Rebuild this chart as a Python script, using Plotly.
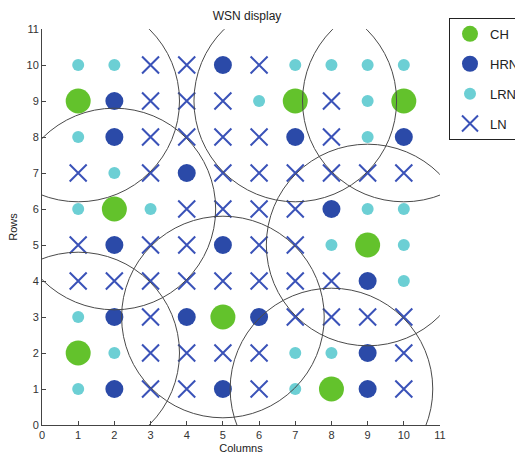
import plotly.graph_objects as go

# Node type on each grid cell, listed from row 10 (top) down to row 1.
# Columns 1..10 left to right.
ROWS = [10, 9, 8, 7, 6, 5, 4, 3, 2, 1]
COLUMNS = [1, 2, 3, 4, 5, 6, 7, 8, 9, 10]
GRID = [
    ["LRN", "LRN", "LN", "LN", "HRN", "LN", "LRN", "LRN", "LRN", "LRN"],
    ["CH", "HRN", "LN", "LN", "LN", "LRN", "CH", "LN", "LRN", "CH"],
    ["LRN", "HRN", "LN", "LN", "LN", "LN", "HRN", "LN", "LRN", "HRN"],
    ["LN", "LRN", "LN", "HRN", "LN", "LN", "LN", "LN", "LN", "LN"],
    ["LRN", "CH", "LRN", "LN", "LN", "LN", "LN", "HRN", "LRN", "LRN"],
    ["LN", "HRN", "LN", "LN", "HRN", "LN", "LN", "LRN", "CH", "LRN"],
    ["LN", "LN", "LN", "LN", "LN", "LN", "LN", "LN", "HRN", "LRN"],
    ["LRN", "HRN", "LN", "HRN", "CH", "HRN", "LN", "LN", "LN", "LN"],
    ["CH", "LRN", "LN", "LN", "LN", "LN", "LRN", "LRN", "HRN", "LN"],
    ["LRN", "HRN", "LN", "LN", "HRN", "LN", "LRN", "CH", "HRN", "LN"],
]
NODE_TYPES = ["CH", "HRN", "LRN", "LN"]
CLUSTER_RADIUS = 2.8

STYLE = {
    "CH": dict(symbol="circle", size=25, color="#63c22c"),
    "HRN": dict(symbol="circle", size=18, color="#2b4aa8"),
    "LRN": dict(symbol="circle", size=12, color="#6ccfd4"),
    "LN": dict(symbol="x-thin", size=17, color="#3a52b8"),
}

fig = go.Figure()

positions = {t: ([], []) for t in NODE_TYPES}
for r, row in zip(ROWS, GRID):
    for c, t in zip(COLUMNS, row):
        positions[t][0].append(c)
        positions[t][1].append(r)

for t in NODE_TYPES:
    st = STYLE[t]
    marker = dict(symbol=st["symbol"], size=st["size"], color=st["color"])
    if t == "LN":
        marker["line"] = dict(color=st["color"], width=2)
    else:
        marker["line"] = dict(width=0)
    fig.add_trace(go.Scatter(
        x=positions[t][0], y=positions[t][1], mode="markers",
        name=t, legendgroup=t, marker=marker, cliponaxis=False,
    ))

# Coverage circle around every cluster head
for cx, cy in zip(*positions["CH"]):
    fig.add_shape(
        type="circle", xref="x", yref="y",
        x0=cx - CLUSTER_RADIUS, x1=cx + CLUSTER_RADIUS,
        y0=cy - CLUSTER_RADIUS, y1=cy + CLUSTER_RADIUS,
        line=dict(color="#4a4a4a", width=1), layer="above",
    )

axis_common = dict(
    range=[0, 11], tickmode="linear", tick0=0, dtick=1,
    showgrid=False, zeroline=False, showline=True, linecolor="#444",
    linewidth=1, ticks="inside", ticklen=4, tickcolor="#444",
    tickfont=dict(size=11, color="#333"), mirror=False,
)

fig.update_layout(
    width=515, height=455,
    margin=dict(l=42, r=75, t=29, b=30, autoexpand=False),
    paper_bgcolor="white", plot_bgcolor="white",
    font=dict(family="Liberation Sans, Arial, sans-serif", color="#222"),
    title=dict(text="WSN display", x=(247 - 42) / 398, xref="paper",
               xanchor="center", y=1 - 16 / 455, yanchor="middle",
               font=dict(size=12, color="#222")),
    xaxis=dict(axis_common, title=dict(text="Columns", font=dict(size=11), standoff=4)),
    yaxis=dict(axis_common, title=dict(text="Rows", font=dict(size=11), standoff=6)),
    legend=dict(
        x=1.0226, y=1.028, xanchor="left", yanchor="top",
        bgcolor="white", bordercolor="#222", borderwidth=1,
        font=dict(size=13, color="#222"), tracegroupgap=10,
        itemsizing="trace",
    ),
)

fig.write_html("out.html")
